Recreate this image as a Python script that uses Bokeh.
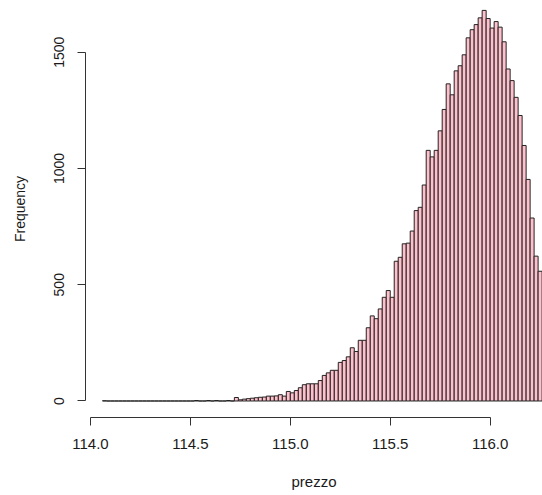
from bokeh.plotting import figure
from bokeh.models import FixedTicker, PrintfTickFormatter, Range1d
from bokeh.embed import file_html
from bokeh.resources import INLINE

# Histogram of "prezzo": bins of width 0.02 starting at 114.06
bin_start = 114.06
bin_width = 0.02
counts = [
    1,                                                    # 114.06
    0, 0, 0, 0, 0, 0, 0, 0, 0, 0, 0,                      # 114.08 - 114.28
    0, 0, 0, 0, 0, 0, 0, 0, 0, 0, 0,                      # 114.30 - 114.50
    2, 0, 0, 2, 0, 2, 0, 0, 2, 0,                         # 114.52 - 114.70
    15, 5, 8, 10, 12, 14, 16, 17, 21, 21, 22, 27, 21, 41, # 114.72 - 114.98
    35, 45, 57, 70, 74, 74, 74, 88, 110, 121,             # 115.00 - 115.18
    132, 132, 166, 174, 190, 229, 213, 261, 261, 315,     # 115.20 - 115.38
    366, 354, 396, 446, 475, 446, 601, 618, 676, 679,     # 115.40 - 115.58
    731, 819, 833, 929, 1078, 1050, 1078, 1162, 1254, 1364,  # 115.60 - 115.78
    1317, 1420, 1442, 1489, 1562, 1597, 1619, 1648, 1680, 1645,  # 115.80 - 115.98
    1604, 1632, 1608, 1545, 1428, 1378, 1306, 1228, 1099, 953,   # 116.00 - 116.18
    787, 623, 558,                                        # 116.20 - 116.24
]
x_ticks = [114.0, 114.5, 115.0, 115.5, 116.0]
y_ticks = [0, 500, 1000, 1500]
x_label = "prezzo"
y_label = "Frequency"

lefts = [round(bin_start + i * bin_width, 4) for i in range(len(counts))]
rights = [round(l + bin_width, 4) for l in lefts]

p = figure(width=542, height=495, output_backend="svg", toolbar_location=None,
           x_range=Range1d(113.975, 116.262), y_range=Range1d(-71, 1722.6),
           min_border_left=85, min_border_right=0, min_border_top=0,
           min_border_bottom=78)

p.quad(left=lefts, right=rights, bottom=0, top=counts,
       fill_color="#FFC0CB", line_color="#222222", line_width=1)

p.grid.visible = False
p.outline_line_color = None
p.background_fill_color = "white"
p.border_fill_color = "white"

font = "Liberation Sans"
for ax in (p.xaxis, p.yaxis):
    ax.minor_tick_line_color = None
    ax.major_tick_in = 0
    ax.major_tick_out = 8
    ax.axis_line_color = "#333333"
    ax.major_tick_line_color = "#333333"
    ax.major_label_text_font = font
    ax.major_label_text_color = "#1a1a1a"
    ax.axis_label_text_font = font
    ax.axis_label_text_font_style = "normal"
    ax.axis_label_text_color = "#1a1a1a"

p.xaxis.major_label_text_font_size = "15px"
p.xaxis.axis_label_text_font_size = "15px"
p.yaxis.major_label_text_font_size = "14px"
p.yaxis.axis_label_text_font_size = "14px"

p.xaxis.bounds = (x_ticks[0], x_ticks[-1])
p.xaxis.ticker = FixedTicker(ticks=x_ticks)
p.xaxis.formatter = PrintfTickFormatter(format="%.1f")
p.xaxis.major_label_standoff = 13
p.xaxis.axis_label = x_label
p.xaxis.axis_label_standoff = 21

p.yaxis.bounds = (y_ticks[0], y_ticks[-1])
p.yaxis.ticker = FixedTicker(ticks=y_ticks)
p.yaxis.major_label_orientation = "vertical"
p.yaxis.major_label_standoff = 13
p.yaxis.axis_label = y_label
p.yaxis.axis_label_standoff = 24

open("out.html", "w").write(file_html(p, INLINE))
